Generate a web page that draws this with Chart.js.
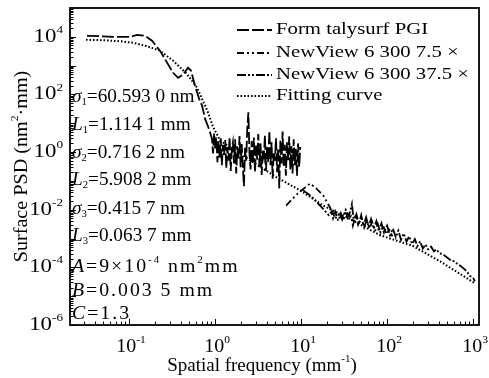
<!DOCTYPE html>
<html>
<head>
<meta charset="utf-8">
<script src="https://cdn.jsdelivr.net/npm/chart.js@4.4.1/dist/chart.umd.min.js"></script>
<style>
  html, body { margin: 0; padding: 0; background: #fff; }
  #wrap { width: 489px; height: 378px; }
</style>
</head>
<body>
<div id="wrap"><canvas id="psd" width="489" height="378"></canvas></div>
<script>
"use strict";

// axis decades that get a label
const freqTicks = [0.1, 1, 10, 100, 1000];
const psdTicks = [1e-6, 1e-4, 1e-2, 1, 1e2, 1e4];

// Form talysurf PGI
const talyFreq = [0.0325, 0.046, 0.0687, 0.103, 0.124, 0.153, 0.185, 0.229, 0.277, 0.325,
  0.372, 0.425, 0.485, 0.526, 0.585, 0.652, 0.706, 0.765, 0.829, 0.875,
  0.92, 0.948, 0.976, 1.005, 1.035, 1.066, 1.098, 1.131, 1.165, 1.2,
  1.236, 1.273, 1.311, 1.351, 1.391, 1.433, 1.476, 1.52, 1.566, 1.613,
  1.661, 1.711, 1.762, 1.815, 1.87, 1.926, 1.983, 2.043, 2.104, 2.167,
  2.232, 2.299, 2.368, 2.439, 2.512, 2.588, 2.665, 2.745, 2.828, 2.912,
  3.0, 3.09, 3.18, 3.28, 3.38, 3.48, 3.58, 3.69, 3.8, 3.91,
  4.03, 4.15, 4.28, 4.41, 4.54, 4.67, 4.81, 4.96, 5.11, 5.26,
  5.42, 5.58, 5.75, 5.92, 6.1, 6.28, 6.47, 6.66, 6.86, 7.07,
  7.28, 7.5, 7.73, 7.96, 8.2, 8.44, 8.7, 8.96, 9.23, 9.5, 9.79];
const talyPsd = [10800, 10500, 10000, 10000, 11700, 10800, 7300, 3300, 1270, 565,
  378, 486, 850, 665, 200, 72, 41, 14.5, 7.7, 4.8,
  2.9, 0.9, 4.5, 1.2, 3.2, 0.45, 2.4, 0.6, 3.0, 0.35,
  1.8, 0.8, 2.6, 0.28, 1.5, 0.5, 3.4, 0.22, 1.3, 2.2,
  0.4, 2.8, 0.18, 1.6, 0.6, 3.6, 0.3, 1.9, 0.3, 0.065,
  1.4, 0.5, 6.5, 24, 0.9, 0.25, 2.4, 0.4, 3.2, 0.2,
  1.7, 0.55, 4.2, 0.3, 2.0, 0.16, 1.2, 0.7, 3.8, 0.22,
  1.5, 0.45, 5.5, 0.35, 2.2, 0.12, 1.0, 0.5, 3.0, 0.2,
  1.4, 0.055, 2.6, 0.4, 5.2, 0.3, 1.8, 0.15, 2.2, 0.5,
  3.5, 0.25, 1.6, 0.18, 2.8, 0.35, 1.3, 0.15, 2.0, 0.3, 1.5];

// NewView 6300, 7.5x objective
const nv75Freq = [6.7, 9, 12.7, 15, 18, 21.7, 23.5, 25, 27, 29, 31, 33, 35, 38, 40,
  43, 46, 50, 54, 58, 62, 67, 72, 78, 84, 90, 97, 105, 115];
const nv75Psd = [0.014, 0.035, 0.081, 0.055, 0.032, 0.012, 0.005, 0.0085, 0.004, 0.0075,
  0.0042, 0.009, 0.0045, 0.006, 0.0028, 0.0065, 0.003, 0.0052, 0.0024, 0.0045,
  0.0022, 0.0038, 0.0018, 0.0032, 0.0016, 0.0028, 0.0014, 0.0022, 0.0012];

// NewView 6300, 37.5x objective
const nv375Freq = [10.6, 13, 16.6, 19, 21, 23, 25, 28, 30, 33, 36, 39, 41, 44, 47, 50, 53, 57,
  61, 65, 70, 75, 80, 86, 92, 100, 108, 117, 126, 135, 145, 156, 168, 180, 195, 210,
  225, 242, 260, 280, 300, 325, 350, 375, 405, 440, 480, 520, 560, 610, 660, 720,
  780, 850, 920, 1000, 1050];
const nv375Psd = [0.047, 0.03, 0.014, 0.009, 0.0065, 0.009, 0.005, 0.0075, 0.0045, 0.01,
  0.006, 0.016, 0.004, 0.007, 0.0032, 0.0065, 0.0028, 0.0055, 0.0025, 0.0048,
  0.0022, 0.004, 0.0018, 0.0034, 0.0016, 0.0028, 0.0013, 0.0022, 0.0011, 0.0019,
  0.0009, 0.0015, 0.00078, 0.0012, 0.00065, 0.00095, 0.00055, 0.0008, 0.00045, 0.00062,
  0.00042, 0.00052, 0.00036, 0.00042, 0.00031, 0.00029, 0.00024, 0.0002, 0.00017, 0.00016,
  0.00013, 0.00011, 0.00009, 0.00007, 0.00005, 0.000042, 0.000033];

// fitting curve
const fitFreq = [0.0316, 0.05, 0.08, 0.112, 0.158, 0.229, 0.324, 0.468, 0.617, 0.813,
  0.955, 1.15, 1.7, 2.57, 5.25, 9.77, 18, 34, 83, 200, 415, 1050];
const fitPsd = [7900, 7600, 7000, 6200, 4800, 3300, 1500, 525, 174, 27.5,
  7.1, 2.5, 1.15, 0.51, 0.13, 0.047, 0.014, 0.0055, 0.0013, 0.00055, 0.00016, 0.000028];

const seriesNames = ["Form talysurf PGI", "NewView 6 300 7.5 \u00d7",
  "NewView 6 300 37.5 \u00d7", "Fitting curve"];
const seriesDash = [[12, 3], [7, 3, 2, 3, 2, 3], [9, 2, 2, 2, 2, 2], [1.6, 1.9]];

const SERIF = '"Liberation Serif", "Times New Roman", serif';

const pts = (xs, ys) => xs.map((x, i) => ({ x: x, y: ys[i] }));
const supExp = v => String(Math.round(Math.log10(v)));

// draws a line of mixed text: [text, kind] with kind "", "i", "sub", "sup"
function drawRich(ctx, parts, x, y, opt) {
  const size = opt.size;
  const fontFor = k => {
    const s = (k === "sub" || k === "sup") ? Math.round(size * 0.58) : size;
    return (k === "i" ? "italic " : "") + s + "px " + SERIF;
  };
  ctx.save();
  ctx.letterSpacing = (opt.spacing || 0) + "px";
  let w = 0;
  parts.forEach(([t, k]) => { ctx.font = fontFor(k); w += ctx.measureText(t).width; });
  const start = opt.align === "center" ? -w / 2 : opt.align === "right" ? -w : 0;
  ctx.translate(x, y);
  if (opt.rotate) ctx.rotate(opt.rotate);
  ctx.scale(opt.sx || 1, 1);
  ctx.textBaseline = "middle";
  ctx.fillStyle = "#000";
  let cx = start;
  parts.forEach(([t, k]) => {
    ctx.font = fontFor(k);
    const dy = k === "sub" ? size * 0.3 : k === "sup" ? -size * 0.36 : 0;
    ctx.fillText(t, cx, dy);
    cx += ctx.measureText(t).width;
  });
  ctx.restore();
}

const notes = [
  { y: 97, sx: 1.07, sp: 0, parts: [["\u03c3", "i"], ["1", "sub"], ["=60.593 0 nm", ""]] },
  { y: 125, sx: 1.07, sp: 0, parts: [["L", "i"], ["1", "sub"], ["=1.114 1 mm", ""]] },
  { y: 153, sx: 1.07, sp: 0, parts: [["\u03c3", "i"], ["2", "sub"], ["=0.716 2 nm", ""]] },
  { y: 180, sx: 1.07, sp: 0, parts: [["L", "i"], ["2", "sub"], ["=5.908 2 mm", ""]] },
  { y: 209, sx: 1.07, sp: 0, parts: [["\u03c3", "i"], ["3", "sub"], ["=0.415 7 nm", ""]] },
  { y: 236, sx: 1.07, sp: 0, parts: [["L", "i"], ["3", "sub"], ["=0.063 7 mm", ""]] },
  { y: 267, sx: 1.1, sp: 1.8, parts: [["A", "i"], ["=9\u00d710", ""], ["-4", "sup"], [" nm", ""], ["2", "sup"], ["mm", ""]] },
  { y: 291, sx: 1.1, sp: 1.8, parts: [["B", "i"], ["=0.003 5 mm", ""]] },
  { y: 314, sx: 1.1, sp: 1.8, parts: [["C", "i"], ["=1.3", ""]] }
];

const decorations = {
  id: "decorations",
  afterDraw(chart) {
    const ctx = chart.ctx;
    const { left, right, top, bottom } = chart.chartArea;
    const xs = chart.scales.x, ys = chart.scales.y;

    ctx.save();
    ctx.strokeStyle = "#000";
    ctx.lineWidth = 1;
    // inward minor/major ticks
    for (let e = -2; e <= 3; e++) {
      for (let k = 1; k <= 9; k++) {
        const v = k * Math.pow(10, e);
        if (v < xs.min || v > xs.max) continue;
        const px = Math.round(xs.getPixelForValue(v)) + 0.5;
        ctx.beginPath();
        ctx.moveTo(px, bottom);
        ctx.lineTo(px, bottom - (k === 1 ? 6 : 3.5));
        ctx.stroke();
      }
    }
    for (let e = -6; e <= 4; e++) {
      for (let k = 1; k <= 9; k++) {
        const v = k * Math.pow(10, e);
        if (v < ys.min || v > ys.max) continue;
        const py = Math.round(ys.getPixelForValue(v)) + 0.5;
        ctx.beginPath();
        ctx.moveTo(left, py);
        ctx.lineTo(left + (k === 1 ? 6 : 3.5), py);
        ctx.stroke();
      }
    }
    // frame
    ctx.lineWidth = 1.8;
    ctx.strokeRect(left, top, right - left, bottom - top);
    ctx.restore();

    // tick labels
    xs.ticks.forEach(t => {
      drawRich(ctx, [["10", ""], [supExp(t.value), "sup"]],
        xs.getPixelForValue(t.value) + 2, bottom + 22, { size: 19, sx: 1.05, align: "center" });
    });
    ys.ticks.forEach(t => {
      drawRich(ctx, [["10", ""], [supExp(t.value), "sup"]],
        left - 7, ys.getPixelForValue(t.value), { size: 19, sx: 1.2, align: "right" });
    });

    // axis titles
    drawRich(ctx, [["Spatial frequency (mm", ""], ["-1", "sup"], [")", ""]],
      262, 366, { size: 19, sx: 1.0, align: "center" });
    drawRich(ctx, [["Surface PSD (nm", ""], ["2", "sup"], ["\u00b7mm)", ""]],
      22, (top + bottom) / 2, { size: 19, sx: 1.06, align: "center", rotate: -Math.PI / 2 });

    // legend inside plot
    const rows = [30, 53, 75, 96];
    ctx.save();
    ctx.strokeStyle = "#000";
    ctx.lineWidth = 2;
    seriesNames.forEach((name, i) => {
      ctx.setLineDash(seriesDash[i]);
      ctx.beginPath();
      ctx.moveTo(237, rows[i]);
      ctx.lineTo(272, rows[i]);
      ctx.stroke();
    });
    ctx.restore();
    seriesNames.forEach((name, i) => {
      drawRich(ctx, [[name, ""]], 276, rows[i], { size: 17, sx: 1.22 });
    });

    // model parameters
    notes.forEach(n => {
      drawRich(ctx, n.parts, 72, n.y, { size: 18, sx: n.sx, spacing: n.sp });
    });
  }
};

const lineSet = (label, data, i) => ({
  label: label,
  data: data,
  borderColor: "#000",
  borderWidth: i === 3 ? 2 : 1.8,
  borderDash: seriesDash[i],
  pointRadius: 0,
  tension: 0,
  fill: false
});

const ctx = document.getElementById("psd").getContext("2d");
const psdChart = new Chart(ctx, {
  type: "line",
  data: {
    datasets: [
      lineSet(seriesNames[0], pts(talyFreq, talyPsd), 0),
      lineSet(seriesNames[1], pts(nv75Freq, nv75Psd), 1),
      lineSet(seriesNames[2], pts(nv375Freq, nv375Psd), 2),
      lineSet(seriesNames[3], pts(fitFreq, fitPsd), 3)
    ]
  },
  options: {
    responsive: false,
    animation: false,
    devicePixelRatio: 1,
    layout: { padding: { top: 8, right: 10, left: 0, bottom: 0 } },
    plugins: {
      legend: { display: false },
      tooltip: { enabled: false }
    },
    scales: {
      x: {
        type: "logarithmic",
        min: 0.0206,
        max: 1170,
        grid: { display: false },
        border: { display: false },
        ticks: { display: false },
        afterBuildTicks: s => { s.ticks = freqTicks.map(v => ({ value: v })); },
        afterFit: s => { s.height = 53; }
      },
      y: {
        type: "logarithmic",
        min: 1e-6,
        max: 1e5,
        grid: { display: false },
        border: { display: false },
        ticks: { display: false },
        afterBuildTicks: s => { s.ticks = psdTicks.map(v => ({ value: v })); },
        afterFit: s => { s.width = 70; }
      }
    }
  },
  plugins: [decorations]
});
</script>
</body>
</html>
